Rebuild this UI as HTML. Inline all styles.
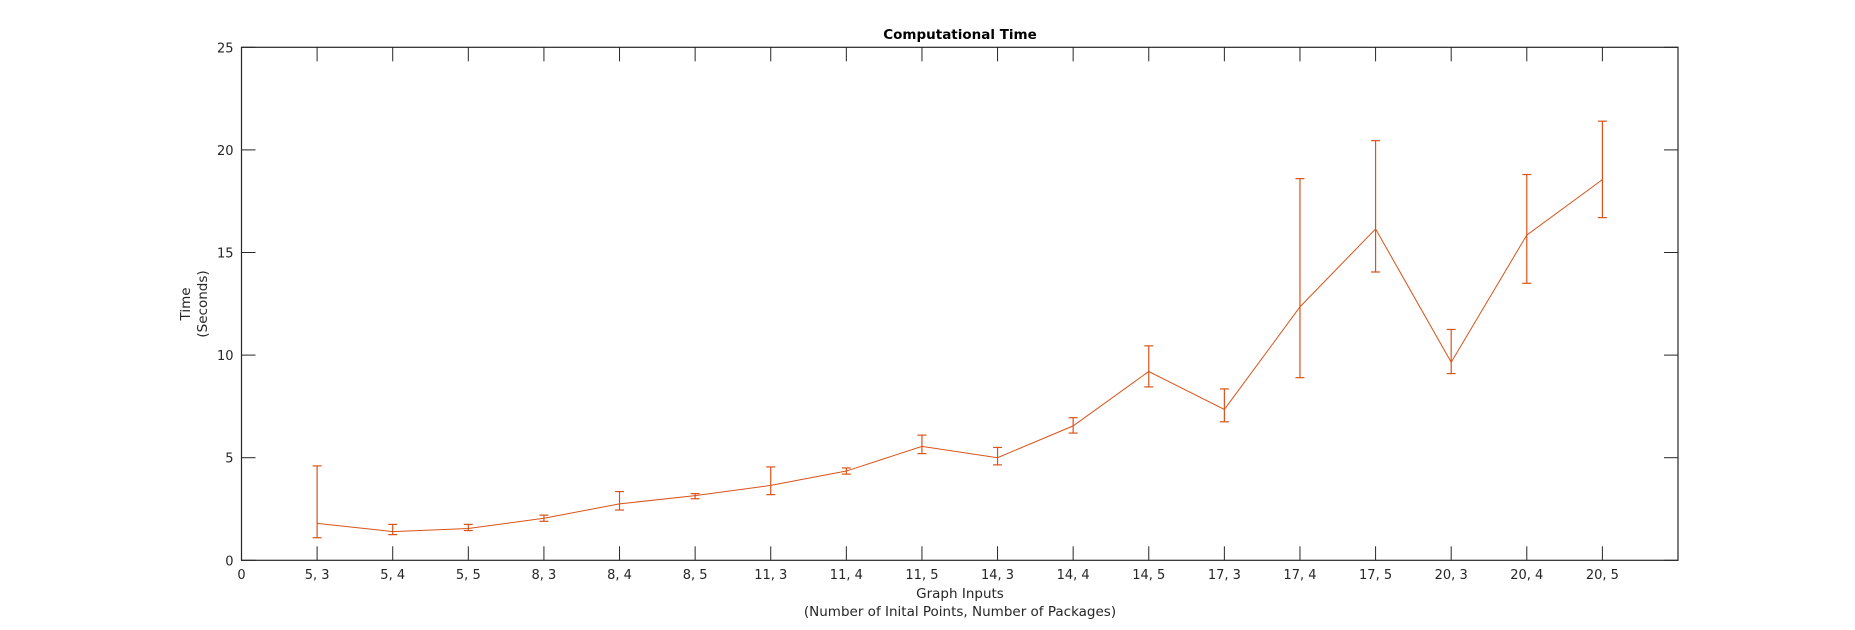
<!DOCTYPE html>
<html><head><meta charset="utf-8"><style>
body{margin:0;background:#fff;}
svg{display:block;font-family:"DejaVu Sans","Liberation Sans",sans-serif;}
</style></head><body>
<svg id="chart" width="1855" height="630">
<rect x="0" y="0" width="1855" height="630" fill="#fff"/>
<text x="960" y="39" text-anchor="middle" font-size="13.5" font-weight="bold" fill="#000">Computational Time</text>
<g id="axes"></g>
<g id="series"></g>
<text x="960" y="598" text-anchor="middle" font-size="13.5" fill="#262626">Graph Inputs</text>
<text x="960" y="616" text-anchor="middle" font-size="13.5" fill="#262626">(Number of Inital Points, Number of Packages)</text>
<g transform="translate(198,304) rotate(-90)">
<text x="0" y="-8" text-anchor="middle" font-size="13.5" fill="#262626">Time</text>
<text x="0" y="9" text-anchor="middle" font-size="13.5" fill="#262626">(Seconds)</text>
</g>
</svg>
<script>
const categories=["5, 3","5, 4","5, 5","8, 3","8, 4","8, 5","11, 3","11, 4","11, 5","14, 3","14, 4","14, 5","17, 3","17, 4","17, 5","20, 3","20, 4","20, 5"];
const meanTimes=[1.8,1.4,1.55,2.05,2.75,3.15,3.65,4.35,5.55,5.0,6.55,9.2,7.35,12.35,16.15,9.65,15.85,18.55];
const lowerBounds=[1.1,1.25,1.45,1.9,2.45,3.0,3.2,4.2,5.2,4.65,6.2,8.45,6.75,8.9,14.05,9.1,13.5,16.7];
const upperBounds=[4.6,1.75,1.75,2.2,3.35,3.25,4.55,4.5,6.1,5.5,6.95,10.45,8.35,18.6,20.45,11.25,18.8,21.4];
const yTicks=[0,5,10,15,20,25];

const L=241.5,R=1678,T=47.3,B=560.3,XMAX=19,YMAX=25;
const xs=i=>L+(R-L)*i/XMAX;
const ys=v=>B-(B-T)*v/YMAX;
const NS="http://www.w3.org/2000/svg";
function mk(tag,attrs,parent){const e=document.createElementNS(NS,tag);for(const k in attrs)e.setAttribute(k,attrs[k]);parent.appendChild(e);return e;}
const ax=document.getElementById('axes');
const sg=document.getElementById('series');
const box=mk('rect',{x:L,y:T,width:R-L,height:B-T,fill:'none',stroke:'#262626','stroke-width':1.2},ax);


const xl=["0"].concat(categories);
xl.forEach((lab,i)=>{
  const x=xs(i);
  const t1=mk('line',{x1:x,x2:x,y1:B,y2:B-14,stroke:'#262626','stroke-width':1},ax);
  
  
  const t2=mk('line',{x1:x,x2:x,y1:T,y2:T+14,stroke:'#262626','stroke-width':1},ax);
  
  
  const tx=mk('text',{x:x,y:579,'text-anchor':'middle','font-size':13,fill:'#262626'},ax);
  tx.textContent=lab;
  
  
});
yTicks.forEach(v=>{
  const y=ys(v);
  const t1=mk('line',{x1:L,x2:L+14,y1:y,y2:y,stroke:'#262626','stroke-width':1},ax);
  
  
  const t2=mk('line',{x1:R,x2:R-14,y1:y,y2:y,stroke:'#262626','stroke-width':1},ax);
  
  
  const tx=mk('text',{x:L-8,y:y+5,'text-anchor':'end','font-size':13,fill:'#262626'},ax);
  tx.textContent=v;
  
  
});
const C='#d95319';
const pts=meanTimes.map((v,i)=>xs(i+1)+','+ys(v)).join(' ');
const line=mk('polyline',{points:pts,fill:'none',stroke:C,'stroke-width':1},sg);


meanTimes.forEach((v,i)=>{
  const x=xs(i+1),yl=ys(lowerBounds[i]),yu=ys(upperBounds[i]);
  const g=mk('g',{stroke:C,'stroke-width':1.2},sg);
  
  
  mk('line',{x1:x,x2:x,y1:yl,y2:yu},g);
  mk('line',{x1:x-4.5,x2:x+4.5,y1:yl,y2:yl},g);
  mk('line',{x1:x-4.5,x2:x+4.5,y1:yu,y2:yu},g);
});
</script>
</body></html>
